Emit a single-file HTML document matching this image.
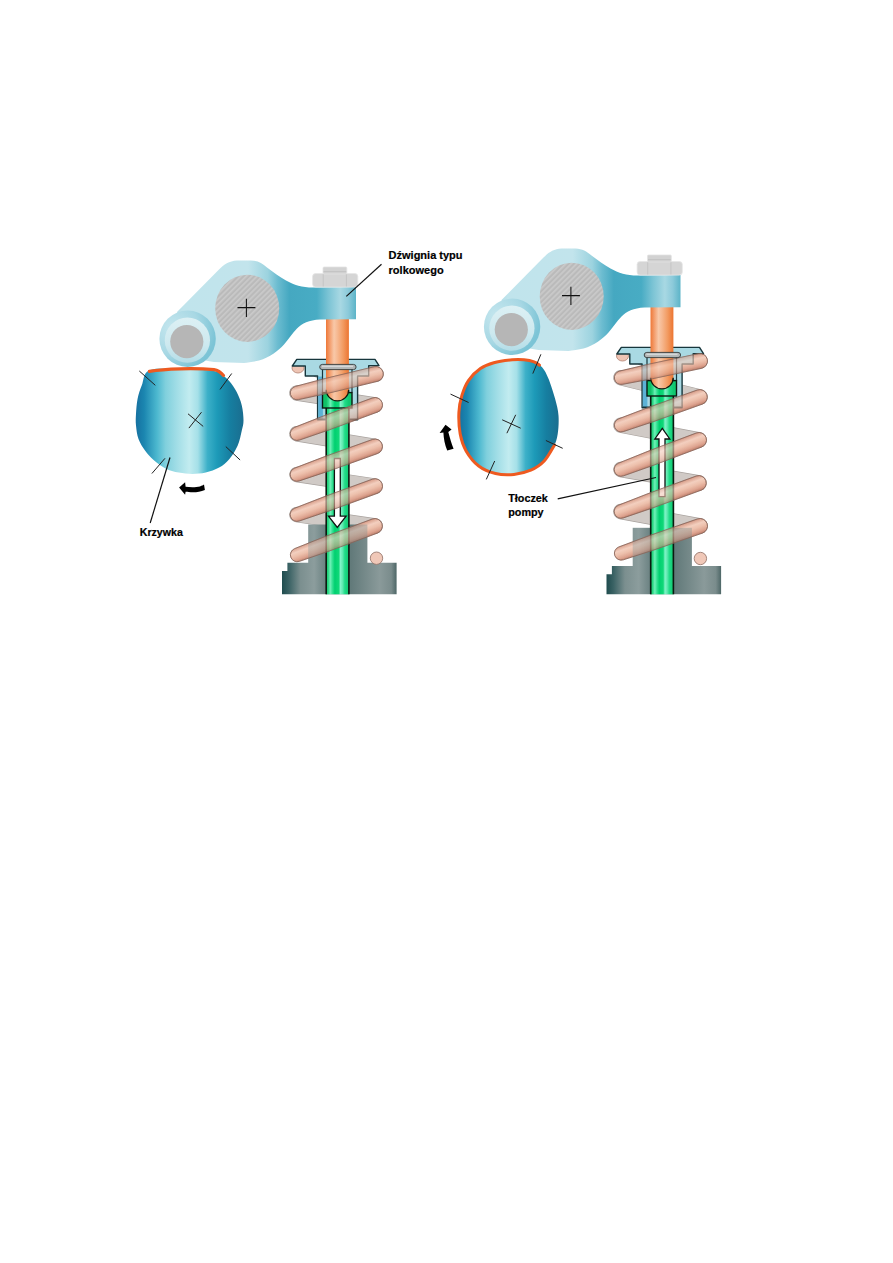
<!DOCTYPE html>
<html><head><meta charset="utf-8">
<style>
html,body{margin:0;padding:0;background:#fff;width:893px;height:1263px;overflow:hidden;position:relative}
svg{position:absolute;left:0;top:0}
.lb{position:absolute;font-family:"Liberation Sans",sans-serif;font-weight:bold;font-size:11px;line-height:13px;color:#000;white-space:nowrap;-webkit-text-stroke:0.2px #000}
</style></head><body>
<svg width="893" height="1263" viewBox="0 0 893 1263">
<defs><pattern id="hatch" patternUnits="userSpaceOnUse" width="3.8" height="3.8" patternTransform="rotate(-45)"><rect width="3.8" height="3.8" fill="#bababa"/><rect width="3.8" height="1.7" fill="#cacaca"/></pattern><linearGradient id="camg" gradientUnits="userSpaceOnUse" x1="135.5" y1="0" x2="243" y2="0"><stop offset="0" stop-color="#1670a0"/><stop offset="0.08" stop-color="#1b86b0"/><stop offset="0.2" stop-color="#4cb8cf"/><stop offset="0.28" stop-color="#80d0dd"/><stop offset="0.38" stop-color="#a0dde6"/><stop offset="0.5" stop-color="#c2ecf0"/><stop offset="0.58" stop-color="#a5e0e8"/><stop offset="0.67" stop-color="#3cb0c8"/><stop offset="0.76" stop-color="#1d9ab8"/><stop offset="0.88" stop-color="#167ea0"/><stop offset="1" stop-color="#1a6e90"/></linearGradient><linearGradient id="camg2" gradientUnits="userSpaceOnUse" x1="458.9" y1="0" x2="558.5" y2="0"><stop offset="0" stop-color="#1670a0"/><stop offset="0.08" stop-color="#1b86b0"/><stop offset="0.2" stop-color="#4cb8cf"/><stop offset="0.28" stop-color="#80d0dd"/><stop offset="0.38" stop-color="#a0dde6"/><stop offset="0.5" stop-color="#c2ecf0"/><stop offset="0.58" stop-color="#a5e0e8"/><stop offset="0.67" stop-color="#3cb0c8"/><stop offset="0.76" stop-color="#1d9ab8"/><stop offset="0.88" stop-color="#167ea0"/><stop offset="1" stop-color="#1a6e90"/></linearGradient><linearGradient id="bodyL" gradientUnits="userSpaceOnUse" x1="160" y1="0" x2="356" y2="0"><stop offset="0" stop-color="#a0d4e0"/><stop offset="0.12" stop-color="#c0e4ec"/><stop offset="0.45" stop-color="#c2e4ec"/><stop offset="0.55" stop-color="#9cd3df"/><stop offset="0.6" stop-color="#6cbcd0"/><stop offset="0.66" stop-color="#45a8c1"/><stop offset="0.8" stop-color="#48acc4"/><stop offset="0.86" stop-color="#7cc4d5"/><stop offset="0.92" stop-color="#a8d8e3"/><stop offset="0.96" stop-color="#8ccada"/><stop offset="1" stop-color="#5cb4c8"/></linearGradient><linearGradient id="rodL" gradientUnits="userSpaceOnUse" x1="326.2" y1="0" x2="348.9" y2="0"><stop offset="0" stop-color="#10c068"/><stop offset="0.1" stop-color="#30da88"/><stop offset="0.18" stop-color="#70f0b8"/><stop offset="0.28" stop-color="#30e090"/><stop offset="0.38" stop-color="#00d070"/><stop offset="0.55" stop-color="#10d878"/><stop offset="0.63" stop-color="#80f4c8"/><stop offset="0.72" stop-color="#60eab0"/><stop offset="0.82" stop-color="#20dc88"/><stop offset="1" stop-color="#10c870"/></linearGradient><linearGradient id="pushL" gradientUnits="userSpaceOnUse" x1="326" y1="0" x2="349" y2="0"><stop offset="0" stop-color="#ee7838"/><stop offset="0.15" stop-color="#f39a68"/><stop offset="0.35" stop-color="#f8c8a8"/><stop offset="0.5" stop-color="#f6b890"/><stop offset="0.75" stop-color="#f29a60"/><stop offset="1" stop-color="#ec7430"/></linearGradient><linearGradient id="baseL" gradientUnits="userSpaceOnUse" x1="282" y1="0" x2="397" y2="0"><stop offset="0" stop-color="#1f4c4e"/><stop offset="0.06" stop-color="#3a6264"/><stop offset="0.16" stop-color="#7b8f8f"/><stop offset="0.28" stop-color="#8c9d9d"/><stop offset="0.38" stop-color="#6b8282"/><stop offset="0.6" stop-color="#627a7a"/><stop offset="0.85" stop-color="#8a9a9a"/><stop offset="0.95" stop-color="#7a8c8c"/><stop offset="1" stop-color="#4a6464"/></linearGradient><linearGradient id="rinL" gradientUnits="userSpaceOnUse" x1="0" y1="318" x2="0" y2="363"><stop offset="0" stop-color="#dcf0f4"/><stop offset="0.6" stop-color="#cde9ef"/><stop offset="1" stop-color="#b4dde7"/></linearGradient><radialGradient id="rollL" gradientUnits="userSpaceOnUse" cx="172" cy="328" r="44"><stop offset="0" stop-color="#c4e6ee"/><stop offset="0.6" stop-color="#a8d8e4"/><stop offset="1" stop-color="#7cc4d6"/></radialGradient><linearGradient id="coilL0" gradientUnits="userSpaceOnUse" x1="334.82" y1="376.5" x2="338.18" y2="390.5"><stop offset="0" stop-color="#d89e8a"/><stop offset="0.3" stop-color="#f3cfbf"/><stop offset="0.55" stop-color="#edc0ac"/><stop offset="0.82" stop-color="#dea490"/><stop offset="1" stop-color="#c28470"/></linearGradient><linearGradient id="coilL1" gradientUnits="userSpaceOnUse" x1="333.51" y1="412.59" x2="338.49" y2="426.11"><stop offset="0" stop-color="#d89e8a"/><stop offset="0.3" stop-color="#f3cfbf"/><stop offset="0.55" stop-color="#edc0ac"/><stop offset="0.82" stop-color="#dea490"/><stop offset="1" stop-color="#c28470"/></linearGradient><linearGradient id="coilL2" gradientUnits="userSpaceOnUse" x1="333.57" y1="453.72" x2="338.43" y2="467.28"><stop offset="0" stop-color="#d89e8a"/><stop offset="0.3" stop-color="#f3cfbf"/><stop offset="0.55" stop-color="#edc0ac"/><stop offset="0.82" stop-color="#dea490"/><stop offset="1" stop-color="#c28470"/></linearGradient><linearGradient id="coilL3" gradientUnits="userSpaceOnUse" x1="333.54" y1="493.63" x2="338.46" y2="507.17"><stop offset="0" stop-color="#d89e8a"/><stop offset="0.3" stop-color="#f3cfbf"/><stop offset="0.55" stop-color="#edc0ac"/><stop offset="0.82" stop-color="#dea490"/><stop offset="1" stop-color="#c28470"/></linearGradient><linearGradient id="coilL4" gradientUnits="userSpaceOnUse" x1="333.49" y1="533.75" x2="338.51" y2="547.25"><stop offset="0" stop-color="#d89e8a"/><stop offset="0.3" stop-color="#f3cfbf"/><stop offset="0.55" stop-color="#edc0ac"/><stop offset="0.82" stop-color="#dea490"/><stop offset="1" stop-color="#c28470"/></linearGradient><clipPath id="ccL"><path d="M295.41,386.39 L325.27,378.49 L374.25,366.71 A7.5,7.5 0 0 1 377.75,381.29 L328.77,393.07 L298.59,399.61 A6.8,6.8 0 0 1 295.41,386.39 Z"/><path d="M294.65,427.32 L324.05,415.76 L372.41,397.96 A7.5,7.5 0 0 1 377.59,412.04 L329.23,429.83 L299.35,440.08 A6.8,6.8 0 0 1 294.65,427.32 Z"/><path d="M294.7,468.1 L324.11,456.8 L372.47,439.44 A7.5,7.5 0 0 1 377.53,453.56 L329.17,470.92 L299.3,480.9 A6.8,6.8 0 0 1 294.7,468.1 Z"/><path d="M294.67,508.21 L324.07,496.76 L372.43,479.15 A7.5,7.5 0 0 1 377.57,493.25 L329.21,510.86 L299.33,520.99 A6.8,6.8 0 0 1 294.67,508.21 Z"/><path d="M294.63,548.63 L324.03,536.95 L372.39,518.97 A7.5,7.5 0 0 1 377.61,533.03 L329.25,551.01 L299.37,561.37 A6.8,6.8 0 0 1 294.63,548.63 Z"/></clipPath><linearGradient id="bodyR" gradientUnits="userSpaceOnUse" x1="160" y1="0" x2="356" y2="0"><stop offset="0" stop-color="#a0d4e0"/><stop offset="0.12" stop-color="#c0e4ec"/><stop offset="0.45" stop-color="#c2e4ec"/><stop offset="0.55" stop-color="#9cd3df"/><stop offset="0.6" stop-color="#6cbcd0"/><stop offset="0.66" stop-color="#45a8c1"/><stop offset="0.8" stop-color="#48acc4"/><stop offset="0.86" stop-color="#7cc4d5"/><stop offset="0.92" stop-color="#a8d8e3"/><stop offset="0.96" stop-color="#8ccada"/><stop offset="1" stop-color="#5cb4c8"/></linearGradient><linearGradient id="rodR" gradientUnits="userSpaceOnUse" x1="326.2" y1="0" x2="348.9" y2="0"><stop offset="0" stop-color="#10c068"/><stop offset="0.1" stop-color="#30da88"/><stop offset="0.18" stop-color="#70f0b8"/><stop offset="0.28" stop-color="#30e090"/><stop offset="0.38" stop-color="#00d070"/><stop offset="0.55" stop-color="#10d878"/><stop offset="0.63" stop-color="#80f4c8"/><stop offset="0.72" stop-color="#60eab0"/><stop offset="0.82" stop-color="#20dc88"/><stop offset="1" stop-color="#10c870"/></linearGradient><linearGradient id="pushR" gradientUnits="userSpaceOnUse" x1="326" y1="0" x2="349" y2="0"><stop offset="0" stop-color="#ee7838"/><stop offset="0.15" stop-color="#f39a68"/><stop offset="0.35" stop-color="#f8c8a8"/><stop offset="0.5" stop-color="#f6b890"/><stop offset="0.75" stop-color="#f29a60"/><stop offset="1" stop-color="#ec7430"/></linearGradient><linearGradient id="baseR" gradientUnits="userSpaceOnUse" x1="282" y1="0" x2="397" y2="0"><stop offset="0" stop-color="#1f4c4e"/><stop offset="0.06" stop-color="#3a6264"/><stop offset="0.16" stop-color="#7b8f8f"/><stop offset="0.28" stop-color="#8c9d9d"/><stop offset="0.38" stop-color="#6b8282"/><stop offset="0.6" stop-color="#627a7a"/><stop offset="0.85" stop-color="#8a9a9a"/><stop offset="0.95" stop-color="#7a8c8c"/><stop offset="1" stop-color="#4a6464"/></linearGradient><linearGradient id="rinR" gradientUnits="userSpaceOnUse" x1="0" y1="318" x2="0" y2="363"><stop offset="0" stop-color="#dcf0f4"/><stop offset="0.6" stop-color="#cde9ef"/><stop offset="1" stop-color="#b4dde7"/></linearGradient><radialGradient id="rollR" gradientUnits="userSpaceOnUse" cx="172" cy="328" r="44"><stop offset="0" stop-color="#c4e6ee"/><stop offset="0.6" stop-color="#a8d8e4"/><stop offset="1" stop-color="#7cc4d6"/></radialGradient><linearGradient id="coilR0" gradientUnits="userSpaceOnUse" x1="334.51" y1="374.31" x2="337.49" y2="388.39"><stop offset="0" stop-color="#d89e8a"/><stop offset="0.3" stop-color="#f3cfbf"/><stop offset="0.55" stop-color="#edc0ac"/><stop offset="0.82" stop-color="#dea490"/><stop offset="1" stop-color="#c28470"/></linearGradient><linearGradient id="coilR1" gradientUnits="userSpaceOnUse" x1="333.58" y1="416.32" x2="338.42" y2="429.88"><stop offset="0" stop-color="#d89e8a"/><stop offset="0.3" stop-color="#f3cfbf"/><stop offset="0.55" stop-color="#edc0ac"/><stop offset="0.82" stop-color="#dea490"/><stop offset="1" stop-color="#c28470"/></linearGradient><linearGradient id="coilR2" gradientUnits="userSpaceOnUse" x1="332.95" y1="460.02" x2="338.05" y2="473.48"><stop offset="0" stop-color="#d89e8a"/><stop offset="0.3" stop-color="#f3cfbf"/><stop offset="0.55" stop-color="#edc0ac"/><stop offset="0.82" stop-color="#dea490"/><stop offset="1" stop-color="#c28470"/></linearGradient><linearGradient id="coilR3" gradientUnits="userSpaceOnUse" x1="333.03" y1="502.49" x2="337.97" y2="516.01"><stop offset="0" stop-color="#d89e8a"/><stop offset="0.3" stop-color="#f3cfbf"/><stop offset="0.55" stop-color="#edc0ac"/><stop offset="0.82" stop-color="#dea490"/><stop offset="1" stop-color="#c28470"/></linearGradient><linearGradient id="coilR4" gradientUnits="userSpaceOnUse" x1="333.64" y1="544.9" x2="338.36" y2="558.5"><stop offset="0" stop-color="#d89e8a"/><stop offset="0.3" stop-color="#f3cfbf"/><stop offset="0.55" stop-color="#edc0ac"/><stop offset="0.82" stop-color="#dea490"/><stop offset="1" stop-color="#c28470"/></linearGradient><clipPath id="ccR"><path d="M295.09,383.05 L324.97,376.02 L373.95,365.66 A7.5,7.5 0 0 1 377.05,380.34 L328.07,390.69 L297.91,396.35 A6.8,6.8 0 0 1 295.09,383.05 Z"/><path d="M294.21,430.8 L324,419.42 L372.98,401.94 A7.5,7.5 0 0 1 378.02,416.06 L329.04,433.55 L298.79,443.6 A6.8,6.8 0 0 1 294.21,430.8 Z"/><path d="M294.09,475.14 L323.49,463.27 L371.85,444.98 A7.5,7.5 0 0 1 377.15,459.02 L328.79,477.31 L298.91,487.86 A6.8,6.8 0 0 1 294.09,475.14 Z"/><path d="M294.17,517.11 L323.57,505.63 L371.93,487.96 A7.5,7.5 0 0 1 377.07,502.04 L328.71,519.71 L298.83,529.89 A6.8,6.8 0 0 1 294.17,517.11 Z"/><path d="M294.27,558.98 L324.06,547.9 L373.04,530.91 A7.5,7.5 0 0 1 377.96,545.09 L328.98,562.07 L298.73,571.82 A6.8,6.8 0 0 1 294.27,558.98 Z"/></clipPath></defs>
<g transform="translate(0,0)"><line x1="376" y1="374" x2="318" y2="370" stroke="#a8a29e" stroke-width="15.6" stroke-linecap="round"/><line x1="376" y1="374" x2="318" y2="370" stroke="#d0cac6" stroke-width="14.4" stroke-linecap="round"/><line x1="375" y1="405" x2="297" y2="393" stroke="#a8a29e" stroke-width="15.6" stroke-linecap="round"/><line x1="375" y1="405" x2="297" y2="393" stroke="#d0cac6" stroke-width="14.4" stroke-linecap="round"/><line x1="375" y1="446.5" x2="297" y2="433.7" stroke="#a8a29e" stroke-width="15.6" stroke-linecap="round"/><line x1="375" y1="446.5" x2="297" y2="433.7" stroke="#d0cac6" stroke-width="14.4" stroke-linecap="round"/><line x1="375" y1="486.2" x2="297" y2="474.5" stroke="#a8a29e" stroke-width="15.6" stroke-linecap="round"/><line x1="375" y1="486.2" x2="297" y2="474.5" stroke="#d0cac6" stroke-width="14.4" stroke-linecap="round"/><line x1="375" y1="526" x2="297" y2="514.6" stroke="#a8a29e" stroke-width="15.6" stroke-linecap="round"/><line x1="375" y1="526" x2="297" y2="514.6" stroke="#d0cac6" stroke-width="14.4" stroke-linecap="round"/><ellipse cx="298" cy="368" rx="6" ry="5" fill="#eec4b4" stroke="#b08070" stroke-width="0.8"/><g fill="url(#baseL)"><rect x="308.2" y="524.5" width="59.2" height="40"/><path d="M287.4,562.7 H396.6 V594.3 H282 V571 H287.4 Z"/></g><path d="M296.8,359.4 H375 L379,365.6 H368.7 V376 H357.6 V419.7 H317.6 V376 H305.3 V366 H292.3 Z" fill="#a9d9e3" stroke="#17363c" stroke-width="1.4" stroke-linejoin="round"/><rect x="318.3" y="376.6" width="4.6" height="42.4" fill="#5cb2d6"/><path d="M322.5,366 V392.6 M352,366 V392.6" stroke="#17363c" stroke-width="1.2"/><rect x="326.2" y="406" width="22.7" height="188.3" fill="url(#rodL)"/><path d="M326.2,406 V594.3 M348.9,406 V594.3" stroke="#0a1a10" stroke-width="1.6"/><path d="M318.3,419 H326.2 M348.9,419 H357" stroke="#17363c" stroke-width="1.2"/><rect x="322.5" y="392.6" width="29.5" height="15.4" fill="url(#rodL)" stroke="#0a1a10" stroke-width="1.4"/><path d="M326,318 H348.9 V389.7 A11.45,11.45 0 0 1 326,389.7 Z" fill="url(#pushL)"/><path d="M326.2,392.6 V389.7 A11.25,11.25 0 0 0 348.7,389.7 V392.6" fill="none" stroke="#0a1a10" stroke-width="1.3"/><path d="M334.4,458.5 H340.3 V516.1 H346.1 L337.3,527.4 L328.5,516.1 H334.4 Z" fill="#fff" stroke="#111" stroke-width="1.3"/><circle cx="376.5" cy="558.2" r="6.2" fill="#f0c8b8" stroke="#9a7a70" stroke-width="0.9"/><path d="M295.41,386.39 L325.27,378.49 L374.25,366.71 A7.5,7.5 0 0 1 377.75,381.29 L328.77,393.07 L298.59,399.61 A6.8,6.8 0 0 1 295.41,386.39 Z" fill="url(#coilL0)" stroke="#9a7264" stroke-width="0.85" stroke-linejoin="round"/><path d="M294.65,427.32 L324.05,415.76 L372.41,397.96 A7.5,7.5 0 0 1 377.59,412.04 L329.23,429.83 L299.35,440.08 A6.8,6.8 0 0 1 294.65,427.32 Z" fill="url(#coilL1)" stroke="#9a7264" stroke-width="0.85" stroke-linejoin="round"/><path d="M294.7,468.1 L324.11,456.8 L372.47,439.44 A7.5,7.5 0 0 1 377.53,453.56 L329.17,470.92 L299.3,480.9 A6.8,6.8 0 0 1 294.7,468.1 Z" fill="url(#coilL2)" stroke="#9a7264" stroke-width="0.85" stroke-linejoin="round"/><path d="M294.67,508.21 L324.07,496.76 L372.43,479.15 A7.5,7.5 0 0 1 377.57,493.25 L329.21,510.86 L299.33,520.99 A6.8,6.8 0 0 1 294.67,508.21 Z" fill="url(#coilL3)" stroke="#9a7264" stroke-width="0.85" stroke-linejoin="round"/><path d="M294.63,548.63 L324.03,536.95 L372.39,518.97 A7.5,7.5 0 0 1 377.61,533.03 L329.25,551.01 L299.37,561.37 A6.8,6.8 0 0 1 294.63,548.63 Z" fill="url(#coilL4)" stroke="#9a7264" stroke-width="0.85" stroke-linejoin="round"/><g clip-path="url(#ccL)" opacity="0.36"><g fill="url(#baseL)"><rect x="308.2" y="524.5" width="59.2" height="40"/><path d="M287.4,562.7 H396.6 V594.3 H282 V571 H287.4 Z"/></g><path d="M296.8,359.4 H375 L379,365.6 H368.7 V376 H357.6 V419.7 H317.6 V376 H305.3 V366 H292.3 Z" fill="#a9d9e3" stroke="#17363c" stroke-width="1.4" stroke-linejoin="round"/><rect x="318.3" y="376.6" width="4.6" height="42.4" fill="#5cb2d6"/><path d="M322.5,366 V392.6 M352,366 V392.6" stroke="#17363c" stroke-width="1.2"/><rect x="326.2" y="406" width="22.7" height="188.3" fill="url(#rodL)"/><path d="M326.2,406 V594.3 M348.9,406 V594.3" stroke="#0a1a10" stroke-width="1.6"/><path d="M318.3,419 H326.2 M348.9,419 H357" stroke="#17363c" stroke-width="1.2"/><rect x="322.5" y="392.6" width="29.5" height="15.4" fill="url(#rodL)" stroke="#0a1a10" stroke-width="1.4"/><path d="M326,318 H348.9 V389.7 A11.45,11.45 0 0 1 326,389.7 Z" fill="url(#pushL)"/><path d="M326.2,392.6 V389.7 A11.25,11.25 0 0 0 348.7,389.7 V392.6" fill="none" stroke="#0a1a10" stroke-width="1.3"/><path d="M334.4,458.5 H340.3 V516.1 H346.1 L337.3,527.4 L328.5,516.1 H334.4 Z" fill="#fff" stroke="#111" stroke-width="1.3"/></g><path d="M295.41,386.39 L325.27,378.49 L374.25,366.71 A7.5,7.5 0 0 1 377.75,381.29 L328.77,393.07 L298.59,399.61 A6.8,6.8 0 0 1 295.41,386.39 Z" fill="none" stroke="#6a4a40" stroke-opacity="0.35" stroke-width="0.8"/><path d="M294.65,427.32 L324.05,415.76 L372.41,397.96 A7.5,7.5 0 0 1 377.59,412.04 L329.23,429.83 L299.35,440.08 A6.8,6.8 0 0 1 294.65,427.32 Z" fill="none" stroke="#6a4a40" stroke-opacity="0.35" stroke-width="0.8"/><path d="M294.7,468.1 L324.11,456.8 L372.47,439.44 A7.5,7.5 0 0 1 377.53,453.56 L329.17,470.92 L299.3,480.9 A6.8,6.8 0 0 1 294.7,468.1 Z" fill="none" stroke="#6a4a40" stroke-opacity="0.35" stroke-width="0.8"/><path d="M294.67,508.21 L324.07,496.76 L372.43,479.15 A7.5,7.5 0 0 1 377.57,493.25 L329.21,510.86 L299.33,520.99 A6.8,6.8 0 0 1 294.67,508.21 Z" fill="none" stroke="#6a4a40" stroke-opacity="0.35" stroke-width="0.8"/><path d="M294.63,548.63 L324.03,536.95 L372.39,518.97 A7.5,7.5 0 0 1 377.61,533.03 L329.25,551.01 L299.37,561.37 A6.8,6.8 0 0 1 294.63,548.63 Z" fill="none" stroke="#6a4a40" stroke-opacity="0.35" stroke-width="0.8"/><rect x="319.7" y="364.4" width="36.4" height="5.2" rx="2.6" fill="#b2b6b6" stroke="#333a3a" stroke-width="0.9"/><rect x="322" y="365.6" width="31" height="1.5" fill="#d4d8d8"/><path d="M177,312 L219,269.5 C224,264.5 229,261 237,260.5 L251,260.4 C258,260.8 262,263 267,267.5 C274,273 280,277 286,280.5 C294,285 302,287.6 313,287.6 L356,287 V319.2 L320,319.4 C309,320 302,323 297,328.5 C292,334 288,339.5 284,344.5 C278,351 270,357 259,360.6 C254,361.8 248,362.5 244,363 L214,362 L190,358 Z" fill="url(#bodyL)"/><ellipse cx="247.2" cy="308.3" rx="32" ry="33.6" fill="url(#hatch)"/><path d="M237.5,307.6 H255.4 M246.4,298.7 V317.1" stroke="#111" stroke-width="1.05"/><circle cx="187.6" cy="338.8" r="28.2" fill="url(#rollL)"/><circle cx="187.4" cy="340.2" r="22.6" fill="url(#rinL)"/><circle cx="186.8" cy="341.6" r="16.6" fill="#b6b6b6"/><rect x="312.6" y="273.5" width="45.2" height="13.6" rx="3" fill="#d5d5d5" stroke="#e6e6e6" stroke-width="0.8"/><rect x="323" y="267" width="23.8" height="7" rx="1" fill="#d2d2d2" stroke="#e2e2e2" stroke-width="0.8"/><path d="M323.2,274.3 V286.5 M346.4,274.3 V286.5 M323.5,271.6 H346.3" stroke="#bdbdbd" stroke-width="0.7"/></g>
<g transform="translate(324.5,-12)"><line x1="375.5" y1="373" x2="318" y2="370" stroke="#a8a29e" stroke-width="15.6" stroke-linecap="round"/><line x1="375.5" y1="373" x2="318" y2="370" stroke="#d0cac6" stroke-width="14.4" stroke-linecap="round"/><line x1="375.5" y1="409" x2="296.5" y2="389.7" stroke="#a8a29e" stroke-width="15.6" stroke-linecap="round"/><line x1="375.5" y1="409" x2="296.5" y2="389.7" stroke="#d0cac6" stroke-width="14.4" stroke-linecap="round"/><line x1="374.5" y1="452" x2="296.5" y2="437.2" stroke="#a8a29e" stroke-width="15.6" stroke-linecap="round"/><line x1="374.5" y1="452" x2="296.5" y2="437.2" stroke="#d0cac6" stroke-width="14.4" stroke-linecap="round"/><line x1="374.5" y1="495" x2="296.5" y2="481.5" stroke="#a8a29e" stroke-width="15.6" stroke-linecap="round"/><line x1="374.5" y1="495" x2="296.5" y2="481.5" stroke="#d0cac6" stroke-width="14.4" stroke-linecap="round"/><line x1="375.5" y1="538" x2="296.5" y2="523.5" stroke="#a8a29e" stroke-width="15.6" stroke-linecap="round"/><line x1="375.5" y1="538" x2="296.5" y2="523.5" stroke="#d0cac6" stroke-width="14.4" stroke-linecap="round"/><ellipse cx="298" cy="368" rx="6" ry="5" fill="#eec4b4" stroke="#b08070" stroke-width="0.8"/><g fill="url(#baseR)"><rect x="308.2" y="539.8" width="59.2" height="40"/><path d="M287.4,578 H396.6 V606.3 H282 V586.3 H287.4 Z"/></g><path d="M296.8,359.4 H375 L379,365.6 H368.7 V376 H357.6 V419.7 H317.6 V376 H305.3 V366 H292.3 Z" fill="#a9d9e3" stroke="#17363c" stroke-width="1.4" stroke-linejoin="round"/><rect x="318.3" y="376.6" width="4.6" height="42.4" fill="#5cb2d6"/><path d="M322.5,366 V392.6 M352,366 V392.6" stroke="#17363c" stroke-width="1.2"/><rect x="326.2" y="406" width="22.7" height="200.3" fill="url(#rodR)"/><path d="M326.2,406 V606.3 M348.9,406 V606.3" stroke="#0a1a10" stroke-width="1.6"/><path d="M318.3,419 H326.2 M348.9,419 H357" stroke="#17363c" stroke-width="1.2"/><rect x="322.5" y="392.6" width="29.5" height="15.4" fill="url(#rodR)" stroke="#0a1a10" stroke-width="1.4"/><path d="M326,318 H348.9 V389.7 A11.45,11.45 0 0 1 326,389.7 Z" fill="url(#pushR)"/><path d="M326.2,392.6 V389.7 A11.25,11.25 0 0 0 348.7,389.7 V392.6" fill="none" stroke="#0a1a10" stroke-width="1.3"/><path d="M334.5,508.7 H340.5 V451 H345.3 L337.8,440.3 L330.3,451 H334.5 Z" fill="#fff" stroke="#111" stroke-width="1.3"/><circle cx="375.9" cy="570.5" r="6.2" fill="#f0c8b8" stroke="#9a7a70" stroke-width="0.9"/><path d="M295.09,383.05 L324.97,376.02 L373.95,365.66 A7.5,7.5 0 0 1 377.05,380.34 L328.07,390.69 L297.91,396.35 A6.8,6.8 0 0 1 295.09,383.05 Z" fill="url(#coilR0)" stroke="#9a7264" stroke-width="0.85" stroke-linejoin="round"/><path d="M294.21,430.8 L324,419.42 L372.98,401.94 A7.5,7.5 0 0 1 378.02,416.06 L329.04,433.55 L298.79,443.6 A6.8,6.8 0 0 1 294.21,430.8 Z" fill="url(#coilR1)" stroke="#9a7264" stroke-width="0.85" stroke-linejoin="round"/><path d="M294.09,475.14 L323.49,463.27 L371.85,444.98 A7.5,7.5 0 0 1 377.15,459.02 L328.79,477.31 L298.91,487.86 A6.8,6.8 0 0 1 294.09,475.14 Z" fill="url(#coilR2)" stroke="#9a7264" stroke-width="0.85" stroke-linejoin="round"/><path d="M294.17,517.11 L323.57,505.63 L371.93,487.96 A7.5,7.5 0 0 1 377.07,502.04 L328.71,519.71 L298.83,529.89 A6.8,6.8 0 0 1 294.17,517.11 Z" fill="url(#coilR3)" stroke="#9a7264" stroke-width="0.85" stroke-linejoin="round"/><path d="M294.27,558.98 L324.06,547.9 L373.04,530.91 A7.5,7.5 0 0 1 377.96,545.09 L328.98,562.07 L298.73,571.82 A6.8,6.8 0 0 1 294.27,558.98 Z" fill="url(#coilR4)" stroke="#9a7264" stroke-width="0.85" stroke-linejoin="round"/><g clip-path="url(#ccR)" opacity="0.36"><g fill="url(#baseR)"><rect x="308.2" y="539.8" width="59.2" height="40"/><path d="M287.4,578 H396.6 V606.3 H282 V586.3 H287.4 Z"/></g><path d="M296.8,359.4 H375 L379,365.6 H368.7 V376 H357.6 V419.7 H317.6 V376 H305.3 V366 H292.3 Z" fill="#a9d9e3" stroke="#17363c" stroke-width="1.4" stroke-linejoin="round"/><rect x="318.3" y="376.6" width="4.6" height="42.4" fill="#5cb2d6"/><path d="M322.5,366 V392.6 M352,366 V392.6" stroke="#17363c" stroke-width="1.2"/><rect x="326.2" y="406" width="22.7" height="200.3" fill="url(#rodR)"/><path d="M326.2,406 V606.3 M348.9,406 V606.3" stroke="#0a1a10" stroke-width="1.6"/><path d="M318.3,419 H326.2 M348.9,419 H357" stroke="#17363c" stroke-width="1.2"/><rect x="322.5" y="392.6" width="29.5" height="15.4" fill="url(#rodR)" stroke="#0a1a10" stroke-width="1.4"/><path d="M326,318 H348.9 V389.7 A11.45,11.45 0 0 1 326,389.7 Z" fill="url(#pushR)"/><path d="M326.2,392.6 V389.7 A11.25,11.25 0 0 0 348.7,389.7 V392.6" fill="none" stroke="#0a1a10" stroke-width="1.3"/><path d="M334.5,508.7 H340.5 V451 H345.3 L337.8,440.3 L330.3,451 H334.5 Z" fill="#fff" stroke="#111" stroke-width="1.3"/></g><path d="M295.09,383.05 L324.97,376.02 L373.95,365.66 A7.5,7.5 0 0 1 377.05,380.34 L328.07,390.69 L297.91,396.35 A6.8,6.8 0 0 1 295.09,383.05 Z" fill="none" stroke="#6a4a40" stroke-opacity="0.35" stroke-width="0.8"/><path d="M294.21,430.8 L324,419.42 L372.98,401.94 A7.5,7.5 0 0 1 378.02,416.06 L329.04,433.55 L298.79,443.6 A6.8,6.8 0 0 1 294.21,430.8 Z" fill="none" stroke="#6a4a40" stroke-opacity="0.35" stroke-width="0.8"/><path d="M294.09,475.14 L323.49,463.27 L371.85,444.98 A7.5,7.5 0 0 1 377.15,459.02 L328.79,477.31 L298.91,487.86 A6.8,6.8 0 0 1 294.09,475.14 Z" fill="none" stroke="#6a4a40" stroke-opacity="0.35" stroke-width="0.8"/><path d="M294.17,517.11 L323.57,505.63 L371.93,487.96 A7.5,7.5 0 0 1 377.07,502.04 L328.71,519.71 L298.83,529.89 A6.8,6.8 0 0 1 294.17,517.11 Z" fill="none" stroke="#6a4a40" stroke-opacity="0.35" stroke-width="0.8"/><path d="M294.27,558.98 L324.06,547.9 L373.04,530.91 A7.5,7.5 0 0 1 377.96,545.09 L328.98,562.07 L298.73,571.82 A6.8,6.8 0 0 1 294.27,558.98 Z" fill="none" stroke="#6a4a40" stroke-opacity="0.35" stroke-width="0.8"/><rect x="319.7" y="364.4" width="36.4" height="5.2" rx="2.6" fill="#b2b6b6" stroke="#333a3a" stroke-width="0.9"/><rect x="322" y="365.6" width="31" height="1.5" fill="#d4d8d8"/><path d="M177,312 L219,269.5 C224,264.5 229,261 237,260.5 L251,260.4 C258,260.8 262,263 267,267.5 C274,273 280,277 286,280.5 C294,285 302,287.6 313,287.6 L356,287 V319.2 L320,319.4 C309,320 302,323 297,328.5 C292,334 288,339.5 284,344.5 C278,351 270,357 259,360.6 C254,361.8 248,362.5 244,363 L214,362 L190,358 Z" fill="url(#bodyR)"/><ellipse cx="247.2" cy="308.3" rx="32" ry="33.6" fill="url(#hatch)"/><path d="M237.5,307.6 H255.4 M246.4,298.7 V317.1" stroke="#111" stroke-width="1.05"/><circle cx="187.6" cy="338.8" r="28.2" fill="url(#rollR)"/><circle cx="187.4" cy="340.2" r="22.6" fill="url(#rinR)"/><circle cx="186.8" cy="341.6" r="16.6" fill="#b6b6b6"/><rect x="312.6" y="273.5" width="45.2" height="13.6" rx="3" fill="#d5d5d5" stroke="#e6e6e6" stroke-width="0.8"/><rect x="323" y="267" width="23.8" height="7" rx="1" fill="#d2d2d2" stroke="#e2e2e2" stroke-width="0.8"/><path d="M323.2,274.3 V286.5 M346.4,274.3 V286.5 M323.5,271.6 H346.3" stroke="#bdbdbd" stroke-width="0.7"/></g>
<path d="M149.4,370.2 C155.77,367.45 169.23,368.67 180,368.8 C190.77,368.93 206.92,369.93 214,371 C221.08,372.07 219.97,373.52 222.5,375.2 C225.03,376.88 226.83,378.3 229.2,381.1 C231.57,383.9 234.6,387.95 236.7,392 C238.8,396.05 240.67,400.63 241.8,405.4 C242.93,410.17 243.5,416.4 243.5,420.6 C243.5,424.8 242.78,426.4 241.8,430.6 C240.82,434.8 239.7,441.03 237.6,445.8 C235.5,450.57 232.28,455.57 229.2,459.2 C226.12,462.83 223.02,465.37 219.1,467.6 C215.18,469.83 210.18,471.53 205.7,472.6 C201.22,473.67 196.68,474 192.2,474 C187.72,474 183.27,473.53 178.8,472.6 C174.33,471.67 169.6,470.5 165.4,468.4 C161.2,466.3 156.97,462.93 153.6,460 C150.23,457.07 147.72,454.3 145.2,450.8 C142.68,447.3 140.03,443.2 138.5,439 C136.97,434.8 136.42,429.8 136,425.6 C135.58,421.4 135.73,418.28 136,413.8 C136.27,409.32 136.63,403.45 137.6,398.7 C138.57,393.95 139.83,390.05 141.8,385.3 C143.77,380.55 143.03,372.95 149.4,370.2 Z" fill="url(#camg)"/><path d="M149.4,371.4 C165,368.6 195,368 214,369.6 C218,370.2 221,372.5 223.5,375.5" fill="none" stroke="#ee5a20" stroke-width="3.2" stroke-linecap="round"/><path d="M512.3,359.8 C517.33,359.32 520.37,359.47 524,359.8 C527.63,360.13 531.02,360.48 534.1,361.8 C537.18,363.12 540.12,364.9 542.5,367.7 C544.88,370.5 546.3,373.42 548.4,378.6 C550.5,383.78 553.42,392.63 555.1,398.8 C556.78,404.97 558.07,409.72 558.5,415.6 C558.93,421.48 558.53,428.78 557.7,434.1 C556.87,439.42 555.75,443.02 553.5,447.5 C551.25,451.98 547.98,457.22 544.2,461 C540.42,464.78 535.83,467.97 530.8,470.2 C525.77,472.43 519.88,473.85 514,474.4 C508.12,474.95 501.38,474.9 495.5,473.5 C489.62,472.1 483.6,469.77 478.7,466 C473.8,462.23 469.18,456.22 466.1,450.9 C463.02,445.58 461.4,440.55 460.2,434.1 C459,427.65 458.62,418.65 458.9,412.2 C459.18,405.75 460.28,400.72 461.9,395.4 C463.52,390.08 465.52,384.77 468.6,380.3 C471.68,375.83 476.2,371.53 480.4,368.6 C484.6,365.67 488.48,364.17 493.8,362.7 C499.12,361.23 507.27,360.28 512.3,359.8 Z" fill="url(#camg2)"/><path d="M539.5,365.2 C538.6,364.63 536.68,362.7 534.1,361.8 C531.52,360.9 527.63,360.13 524,359.8 C520.37,359.47 517.33,359.32 512.3,359.8 C507.27,360.28 499.12,361.23 493.8,362.7 C488.48,364.17 484.6,365.67 480.4,368.6 C476.2,371.53 471.68,375.83 468.6,380.3 C465.52,384.77 463.52,390.08 461.9,395.4 C460.28,400.72 459.18,405.75 458.9,412.2 C458.62,418.65 459,427.65 460.2,434.1 C461.4,440.55 463.02,445.58 466.1,450.9 C469.18,456.22 473.8,462.23 478.7,466 C483.6,469.77 489.62,472.1 495.5,473.5 C501.38,474.9 508.12,474.95 514,474.4 C519.88,473.85 525.77,472.43 530.8,470.2 C535.83,467.97 540.25,465.2 544.2,461 C548.15,456.8 552.78,447.67 554.5,445" fill="none" stroke="#ee5a20" stroke-width="3" stroke-linecap="round"/>
<line x1="139.3" y1="371" x2="155.3" y2="385.3" stroke="#222" stroke-width="1"/><line x1="231.7" y1="373.5" x2="220" y2="389.5" stroke="#222" stroke-width="1"/><line x1="225.8" y1="446.6" x2="240.1" y2="460" stroke="#222" stroke-width="1"/><line x1="151.9" y1="473.5" x2="165" y2="458.3" stroke="#222" stroke-width="1"/><line x1="188" y1="413.8" x2="203.2" y2="426.4" stroke="#222" stroke-width="1"/><line x1="201.5" y1="412.2" x2="188.9" y2="428.1" stroke="#222" stroke-width="1"/><line x1="540.9" y1="354.3" x2="532.8" y2="373.6" stroke="#222" stroke-width="1"/><line x1="450.5" y1="394.1" x2="468.6" y2="402.5" stroke="#222" stroke-width="1"/><line x1="545.9" y1="440.5" x2="562.7" y2="448.3" stroke="#222" stroke-width="1"/><line x1="494.7" y1="461" x2="486.3" y2="479.4" stroke="#222" stroke-width="1"/><line x1="502.2" y1="419.8" x2="520.7" y2="428.2" stroke="#222" stroke-width="1"/><line x1="515.7" y1="414.8" x2="506.9" y2="433.2" stroke="#222" stroke-width="1"/><line x1="381.5" y1="264.3" x2="346.3" y2="296.4" stroke="#111" stroke-width="1.2"/><line x1="170" y1="457.5" x2="150.2" y2="523" stroke="#111" stroke-width="1.2"/><line x1="557.7" y1="498.9" x2="656" y2="477.5" stroke="#111" stroke-width="1.2"/><path d="M179.1,487.6 L185.1,482.3 L185.6,486.8 C190,487.2 196,487.4 200,486.4 C202,485.8 203,485.2 204,484.6 L204.9,490 C201,491.4 197,492.3 193,492.3 C190,492.2 187,491.9 185.6,491.7 L185.1,494.7 Z" fill="#000"/><path d="M445.5,424.8 L439.6,432.9 L443.4,432.6 C443.6,438 444.8,445 447.2,450.6 L453.6,448.8 C451.6,444 449.8,437.5 448.3,431.9 L451.6,429.5 Z" fill="#000"/>
</svg>
<div class="lb" style="left:388.6px;top:249.4px">Dźwignia typu</div>
<div class="lb" style="left:388.6px;top:263.6px">rolkowego</div>
<div class="lb" style="left:508.2px;top:492.2px;font-size:10.8px">Tłoczek</div>
<div class="lb" style="left:508.2px;top:505.9px;font-size:10.8px">pompy</div>
<div class="lb" style="left:139.8px;top:525.7px;font-size:10.6px">Krzywka</div>
</body></html>
